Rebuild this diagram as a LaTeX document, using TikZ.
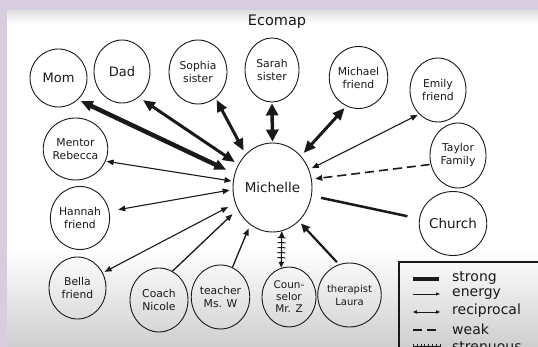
\documentclass[tikz,border=0pt]{standalone}
\usepackage{fontspec}
\setmainfont{DejaVu Sans}
\usetikzlibrary{shapes.geometric,arrows.meta}
\definecolor{lav}{RGB}{214,205,222}
\definecolor{botgray}{RGB}{206,206,206}
\definecolor{ink}{RGB}{25,25,25}
\tikzset{
  bigtip/.tip={Triangle[length=12pt,width=10pt]},
  sqtip/.tip={Triangle[length=12pt,width=12pt]},
  smalltip/.tip={Triangle[length=7pt,width=5.5pt]},
  thertip/.tip={Triangle[length=9pt,width=8pt]},
  strtip/.tip={Triangle[length=6pt,width=5pt]},
  tinytip/.tip={Triangle[length=4pt,width=3.5pt]},
  person/.style={ellipse, draw=ink, line width=0.9pt, inner sep=0pt, align=center,
    font=\fontsize{10.8}{13}\selectfont, text=ink},
  strongtie/.style={draw=ink, line width=3pt, bigtip-bigtip},
  thintie/.style={draw=ink, line width=1.1pt, smalltip-smalltip},
  energytie/.style={draw=ink, line width=1.3pt, -smalltip},
  weaktie/.style={draw=ink, line width=1.6pt, dash pattern=on 9pt off 5pt, -smalltip},
  legtext/.style={anchor=west, font=\fontsize{14}{15}\selectfont, text=ink, inner sep=0pt}
}
\begin{document}
\begin{tikzpicture}[x=1pt,y=-1pt]
\useasboundingbox (0,0) rectangle (538,347);
% background
\fill[lav] (0,0) rectangle (538,347);
\fill[white] (7,11) rectangle (538,347);
\shade[top color=white, bottom color=botgray] (7,250) rectangle (538,347);
\shade[top color=black!12, bottom color=white] (7,11) rectangle (538,24);

\node[font=\fontsize{14.5}{15}\selectfont, text=ink] (title) at (277,22) {Ecomap};

% nodes
\node[person, minimum width=57pt, minimum height=58pt, font=\fontsize{13}{14}\selectfont] (Mom) at (58.5,78) {Mom};
\node[person, minimum width=56pt, minimum height=63pt, font=\fontsize{13}{14}\selectfont] (Dad) at (122,71.5) {Dad};
\node[person, minimum width=58pt, minimum height=64pt] (Sophia) at (198,72) {Sophia\\sister};
\node[person, minimum width=54pt, minimum height=64pt] (Sarah) at (272,70) {Sarah\\sister};
\node[person, minimum width=55pt, minimum height=62pt] (Michael) at (358.5,77.5) {Michael\\friend};
\node[person, minimum width=56pt, minimum height=64pt] (Emily) at (438,90) {Emily\\friend};
\node[person, minimum width=57pt, minimum height=62pt] (Rebecca) at (75.5,149) {Mentor\\Rebecca};
\node[person, minimum width=56pt, minimum height=65pt] (Taylor) at (458,155.5) {Taylor\\Family};
\node[person, minimum width=79pt, minimum height=89pt, font=\fontsize{13.5}{15}\selectfont] (Michelle) at (272.5,187.5) {Michelle};
\node[person, minimum width=56pt, minimum height=63pt] (Hannah) at (80,218) {Hannah\\friend};
\node[person, minimum width=56pt, minimum height=64pt, font=\fontsize{13.5}{15}\selectfont] (Church) at (453,223.5) {Church};
\node[person, minimum width=57pt, minimum height=62pt] (Bella) at (77.5,288) {Bella\\friend};
\node[person, minimum width=58pt, minimum height=64pt] (Coach) at (159,300) {Coach\\Nicole};
\node[person, minimum width=55pt, minimum height=64pt] (Teacher) at (220.5,297) {teacher\\Ms. W};
\node[person, minimum width=54pt, minimum height=60pt, font=\fontsize{10.5}{12}\selectfont] (Counselor) at (289,297) {Coun-\\selor\\Mr. Z};
\node[person, minimum width=57pt, minimum height=64pt, font=\fontsize{10}{13}\selectfont] (Therapist) at (349.5,295) {therapist\\Laura};

% connectors
\draw[strongtie, line width=4.5pt, shorten <=3pt, shorten >=9pt] (Mom.-48) -- (Michelle.160.5);
\draw[strongtie, shorten <=5pt, shorten >=4pt] (Dad.-57) -- (Michelle.146.8);
\draw[strongtie, shorten <=2pt, shorten >=4pt] (Sophia.-56.3) -- (Michelle.129.8);
\draw[strongtie, line width=3.5pt, sqtip-sqtip, shorten <=1pt, shorten >=1pt] (Sarah.south) -- (Michelle.north);
\draw[strongtie, shorten <=2.5pt, shorten >=4pt] (Michael.-113.9) -- (Michelle.48);
\draw[thintie, shorten <=1.5pt, shorten >=3pt] (Emily.-128.7) -- (Michelle.26.3);
\draw[weaktie, shorten <=1pt, shorten >=3.5pt] (Taylor.198.6) -- (Michelle.12.3);
\draw[draw=ink, line width=2.5pt, shorten <=9.5pt, shorten >=12pt] (Michelle.-12.6) -- (Church.172.6);
\draw[thintie, shorten <=1pt, shorten >=1.5pt] (Rebecca.-22.8) -- (Michelle.171.9);
\draw[thintie, shorten <=9pt, shorten >=3pt] (Hannah.13.3) -- (Michelle.183.4);
\draw[thintie, shorten <=2pt, shorten >=8pt] (Bella.31.6) -- (Michelle.203.5);
\draw[energytie, shorten >=7pt] (Coach.65) -- (Michelle.212.3);
\draw[energytie, shorten >=4pt] (Teacher.68.5) -- (Michelle.239.3);
\draw[energytie, line width=2.2pt, thertip-, shorten <=3pt, shorten >=3pt] (Michelle.-52.5) -- (Therapist.109.4);
% strenuous
\draw[draw=ink, line width=1.1pt, strtip-strtip] (Michelle.-78) -- (Counselor.105);
\draw[draw=ink, line width=8pt, dash pattern=on 1pt off 4pt, shorten <=6pt, shorten >=6pt] (Michelle.-78) -- (Counselor.105);

% legend
\draw[draw=ink, line width=2pt] (399,262) rectangle (560,380);
\coordinate (l1a) at (413,279); \coordinate (l1b) at (439,279);
\coordinate (l2a) at (413,294); \coordinate (l2b) at (440,294);
\coordinate (l3a) at (413,312); \coordinate (l3b) at (440,312);
\coordinate (l4a) at (413,330); \coordinate (l4b) at (440,330);
\coordinate (l5a) at (413,346); \coordinate (l5b) at (440,346);
\draw[draw=ink, line width=3.5pt] (l1a) -- (l1b);
\draw[draw=ink, line width=0.8pt, -{Triangle[length=4pt,width=3pt]}] (l2a) -- (l2b);
\draw[draw=ink, line width=0.6pt, tinytip-tinytip] (l3a) -- (l3b);
\draw[draw=ink, line width=1.8pt, dash pattern=on 9pt off 5pt] (l4a) -- (l4b);
\draw[draw=ink, line width=0.8pt] (l5a) -- (l5b);
\draw[draw=ink, line width=5pt, dash pattern=on 0.8pt off 3pt] (l5a) -- (l5b);
\node[legtext] (s1) at (452,278) {strong};
\node[legtext] (s2) at (452,294) {energy};
\node[legtext] (s3) at (452,311) {reciprocal};
\node[legtext] (s4) at (452,329) {weak};
\node[legtext] (s5) at (452,347) {strenuous};
\end{tikzpicture}
\end{document}
